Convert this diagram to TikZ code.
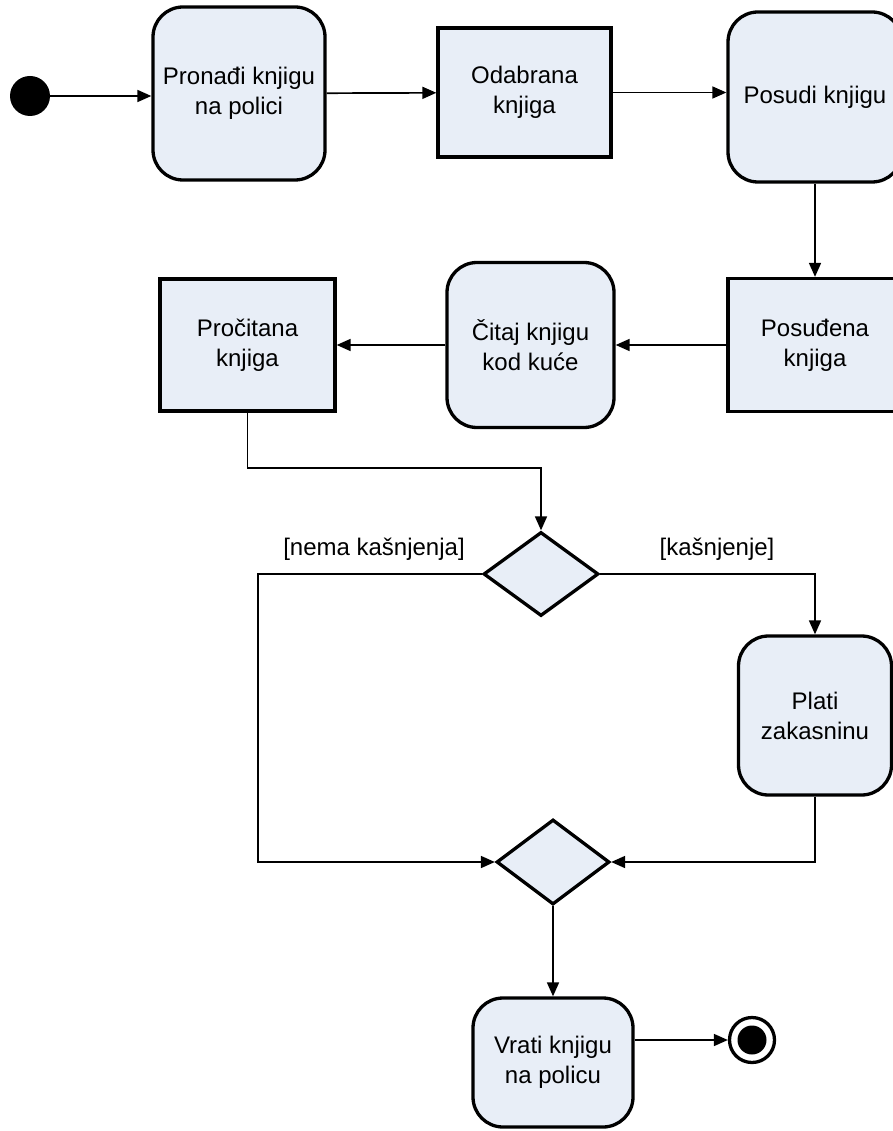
\documentclass[tikz,border=0pt]{standalone}
\usepackage{fontspec}
\setmainfont{Liberation Sans}
\usetikzlibrary{arrows.meta,shapes.geometric}
\definecolor{boxfill}{RGB}{232,238,247}
\tikzset{
  base/.style={draw=black,line width=3.3pt,fill=boxfill,inner sep=0pt,align=center,
    font=\fontsize{24}{30}\selectfont},
  act/.style={base,rectangle,rounded corners=30pt},
  obj/.style={base,rectangle},
  dec/.style={base,diamond},
  conn/.style={line width=1.7pt,-{Triangle[length=14pt,width=12pt]}},
  lbl/.style={font=\fontsize{24}{30}\selectfont},
}
\begin{document}
\begin{tikzpicture}[x=1pt,y=-1pt]
\useasboundingbox (0,0) rectangle (892,1131);
\node[circle,fill=black,minimum size=40pt,inner sep=0pt] (start) at (30,96) {};
\node[act,minimum width=172pt,minimum height=173pt] (n1) at (239,93.5) {Pronađi knjigu\\na polici};
\node[obj,minimum width=173pt,minimum height=129pt] (n2) at (524.5,92.5) {Odabrana\\knjiga};
\node[act,minimum width=174pt,minimum height=170pt] (n3) at (815,97) {Posudi knjigu};
\node[obj,minimum width=174pt,minimum height=133pt] (n4) at (815,345) {Posuđena\\knjiga};
\node[act,minimum width=167pt,minimum height=165pt] (n5) at (530.5,345) {Čitaj knjigu\\kod kuće};
\node[obj,minimum width=175pt,minimum height=132pt] (n6) at (247.5,345) {Pročitana\\knjiga};
\node[dec,minimum width=115pt,minimum height=84pt] (d1) at (541,574) {};
\node[dec,minimum width=113pt,minimum height=85pt] (d2) at (553,862) {};
\node[act,minimum width=153pt,minimum height=159pt] (n7) at (815,715.5) {Plati\\zakasninu};
\node[act,minimum width=160pt,minimum height=129pt] (n8) at (553,1062.5) {Vrati knjigu\\na policu};
\node[circle,draw=black,line width=3.3pt,fill=white,minimum size=45pt,inner sep=0pt] (end) at (752,1040) {};
\node[circle,fill=black,minimum size=29pt,inner sep=0pt] (endin) at (752,1040) {};
\node[lbl] (l1) at (374,549) {[nema kašnjenja]};
\node[lbl] (l2) at (717,549) {[kašnjenje]};
\coordinate (L) at (258,574);
\coordinate (B) at (247.5,468);

\draw[conn] (start) -- (n1.west |- start);
\draw[conn] (n1) -- (n2);
\draw[conn] (n2) -- (n3.west |- n2);
\draw[conn] (n3.south) -- (n4.north);
\draw[conn] (n4.west) -- (n5.east);
\draw[conn] (n5.west) -- (n6.east);
\draw[conn] (n6.south) -- (B) -| (d1.north);
\draw[conn] (d1.east) -| (n7.north);
\draw[conn] (d1.west) -- (L) |- (d2.west);
\draw[conn] (n7.south) |- (d2.east);
\draw[conn] (d2.south) -- (n8.north);
\draw[conn] (n8.east |- end) -- (end.west);
\end{tikzpicture}
\end{document}
